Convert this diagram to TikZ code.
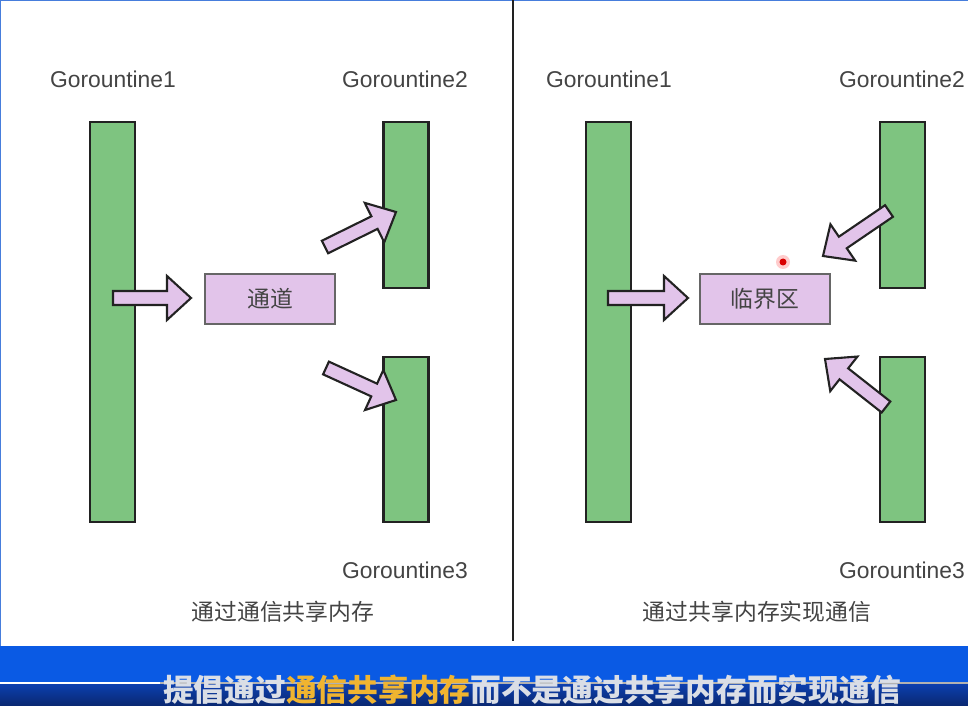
\documentclass[tikz,border=0pt]{standalone}
\usepackage{fontspec}
\setmainfont{Liberation Sans}
\newfontfamily\cjk{Noto Sans CJK SC}
\usepackage{xcolor}
\usetikzlibrary{calc}

\definecolor{gorgreen}{RGB}{126,196,128}
\definecolor{boxpurple}{RGB}{226,196,234}
\definecolor{edgedark}{RGB}{34,34,34}
\definecolor{textgray}{RGB}{68,68,68}
\definecolor{frameblue}{RGB}{70,125,220}
\definecolor{barblue}{RGB}{10,90,228}
\definecolor{bandtop}{RGB}{12,64,178}
\definecolor{bandbot}{RGB}{10,40,112}
\definecolor{subwhite}{RGB}{218,222,230}
\definecolor{subyellow}{RGB}{240,180,48}

% fat block arrow from #1 to #2
\newcommand{\fatarrow}[2]{%
  \coordinate (hb) at ($(#2)!0.48cm!(#1)$);
  \draw[fat] ($(#1)!0.14cm!90:(#2)$) -- ($(hb)!0.14cm!90:(#2)$) -- ($(hb)!0.44cm!90:(#2)$)
    -- (#2) -- ($(hb)!0.44cm!-90:(#2)$) -- ($(hb)!0.14cm!-90:(#2)$) -- ($(#1)!0.14cm!-90:(#2)$) -- cycle;
}

\begin{document}
\begin{tikzpicture}[x=0.02cm, y=-0.02cm,
  bar/.style={rectangle, draw=edgedark, line width=1.2pt, fill=gorgreen, minimum width=0.9cm, inner sep=0pt},
  box/.style={rectangle, draw=gray!80!black, line width=0.8pt, fill=boxpurple, minimum width=2.6cm, minimum height=1cm, font=\cjk\fontsize{13}{15}\selectfont, text=textgray},
  glabel/.style={font=\fontsize{13}{15}\selectfont, text=textgray},
  caption/.style={font=\cjk\fontsize{13}{15}\selectfont, text=textgray},
  fat/.style={draw=edgedark, line width=1.2pt, fill=boxpurple, line join=miter}
]
\useasboundingbox (0,0) rectangle (968,706);
\fill[white] (0,0) rectangle (968,646);
\draw[frameblue, line width=1.5pt] (0,646) -- (0,0) -- (968,0);

% left: communicate to share memory
\node[glabel] (l1) at (113,79) {Gorountine1};
\node[glabel] (l2) at (405,79) {Gorountine2};
\node[glabel] (l3) at (405,570) {Gorountine3};
\node[bar, minimum height=8cm] (g1) at (112.5,322) {};
\node[bar, minimum height=3.32cm] (g2) at (406,205) {};
\node[bar, minimum height=3.3cm] (g3) at (406,439.5) {};
\node[box] (chan) at (270,299) {通道};
\node[caption] (capl) at (283,612) {通过通信共享内存};

\coordinate (a1s) at (113,298);
\coordinate (a1t) at (191,298);
\coordinate (a2s) at (325,247);
\coordinate (a2t) at (396,212);
\coordinate (a3s) at (326,368);
\coordinate (a3t) at (396,400);
\fatarrow{a1s}{a1t}
\fatarrow{a2s}{a2t}
\fatarrow{a3s}{a3t}

% divider
\draw[edgedark, line width=1.6pt] (513,0) -- (513,641);

% right: share memory to communicate
\node[glabel] (r1) at (609,79) {Gorountine1};
\node[glabel] (r2) at (902,79) {Gorountine2};
\node[glabel] (r3) at (902,570) {Gorountine3};
\node[bar, minimum height=8cm] (h1) at (608.5,322) {};
\node[bar, minimum height=3.32cm] (h2) at (902.5,205) {};
\node[bar, minimum height=3.3cm] (h3) at (902.5,439.5) {};
\node[box] (crit) at (765,299) {临界区};
\node[caption] (capr) at (757,612) {通过共享内存实现通信};

\coordinate (b1s) at (608,298);
\coordinate (b1t) at (688,298);
\coordinate (b2s) at (889,211);
\coordinate (b2t) at (823,256);
\coordinate (b3s) at (886,407);
\coordinate (b3t) at (825,359);
\fatarrow{b1s}{b1t}
\fatarrow{b2s}{b2t}
\fatarrow{b3s}{b3t}

% pointer dot
\fill[red!20] (783,262) circle (7);
\fill[red!85!black] (783,262) circle (3.5);

% subtitle band
\fill[barblue] (0,646) rectangle (968,683);
\shade[top color=bandtop, bottom color=bandbot] (0,683) rectangle (968,706);
\draw[gray!60, line width=0.6pt] (160,683) -- (968,683);
\draw[white, line width=1.2pt] (0,683) -- (160,683);
\node[font=\cjk\bfseries\fontsize{17.5}{19}\selectfont, text=subwhite, inner sep=0pt] (sub) at (532,690)
  {提倡通过\textcolor{subyellow}{通信共享内存}而不是通过共享内存而实现通信};
\end{tikzpicture}
\end{document}
